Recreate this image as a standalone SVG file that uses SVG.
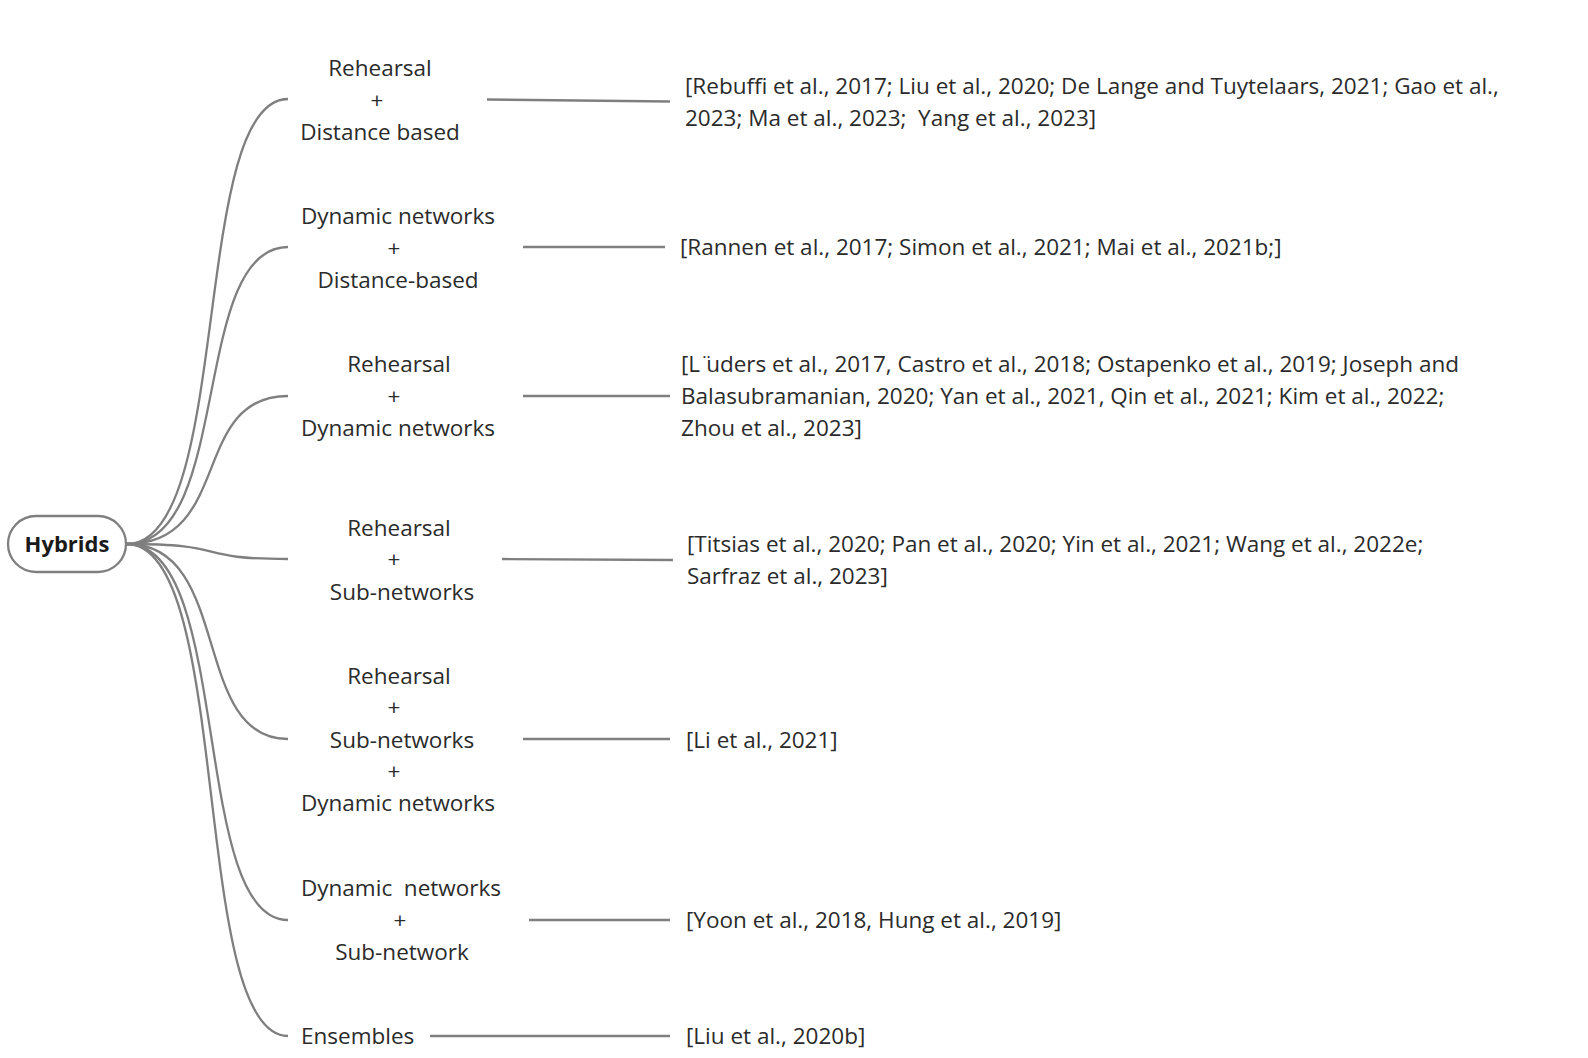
<svg xmlns="http://www.w3.org/2000/svg" width="1588" height="1058" viewBox="0 0 1588 1058">
<style>
text{font-family:"Open Sans","Noto Sans","DejaVu Sans",sans-serif;font-size:22.5px;fill:#2b2b2b}
.c{text-anchor:middle}
.root{font-weight:bold;font-size:22px;fill:#1a1a1a}
.ln{fill:none;stroke:#7f7f7f;stroke-width:2.3}
</style>
<rect width="1588" height="1058" fill="#ffffff"/>
<g id="connectors">
<path class="ln" d="M127,544 C233,544 190,99 288,99"/>
<path class="ln" d="M127,544 C233,544 190,247 288,247"/>
<path class="ln" d="M127,544 C233,544 190,396 288,396"/>
<path class="ln" d="M127,544 C233,544 190,559 288,559"/>
<path class="ln" d="M127,544 C233,544 190,739 288,739"/>
<path class="ln" d="M127,544 C233,544 190,920 288,920"/>
<path class="ln" d="M127,544 C233,544 190,1036 288,1036"/>
<path class="ln" d="M487,99.5 L670,101.5"/>
<path class="ln" d="M523,247 L665,247"/>
<path class="ln" d="M523,396 L670,396"/>
<path class="ln" d="M502,559 L673,560"/>
<path class="ln" d="M523,739 L670,739"/>
<path class="ln" d="M529,920 L670,920"/>
<path class="ln" d="M430,1036 L670,1036"/>
</g>
<g id="root">
<rect x="8" y="516" width="118" height="56" rx="28" fill="#ffffff" stroke="#7f7f7f" stroke-width="2.3"/>
<text class="c root" x="67" y="552">Hybrids</text>
</g>
<g id="n1">
<text class="c" x="380" y="75.5">Rehearsal</text>
<text class="c" x="377" y="107.5">+</text>
<text class="c" x="380" y="139.5">Distance based</text>
</g>
<g id="r1">
<text x="685" y="94">[Rebuffi et al., 2017; Liu et al., 2020; De Lange and Tuytelaars, 2021; Gao et al.,</text>
<text x="685" y="125.5" xml:space="preserve">2023; Ma et al., 2023;  Yang et al., 2023]</text>
</g>
<g id="n2">
<text class="c" x="398" y="223.5">Dynamic networks</text>
<text class="c" x="394" y="255.5">+</text>
<text class="c" x="398" y="287.5">Distance-based</text>
</g>
<g id="r2">
<text x="680" y="255">[Rannen et al., 2017; Simon et al., 2021; Mai et al., 2021b;]</text>
</g>
<g id="n3">
<text class="c" x="399" y="371.5">Rehearsal</text>
<text class="c" x="394" y="404">+</text>
<text class="c" x="398" y="435.5">Dynamic networks</text>
</g>
<g id="r3">
<text x="681" y="371.5">[L¨<tspan dx="-7">uders et al., 2017, Castro et al., 2018; Ostapenko et al., 2019; Joseph and</tspan></text>
<text x="681" y="404">Balasubramanian, 2020; Yan et al., 2021, Qin et al., 2021; Kim et al., 2022;</text>
<text x="681" y="435.5">Zhou et al., 2023]</text>
</g>
<g id="n4">
<text class="c" x="399" y="535.5">Rehearsal</text>
<text class="c" x="394" y="567">+</text>
<text class="c" x="402" y="599.5">Sub-networks</text>
</g>
<g id="r4">
<text x="687" y="552">[Titsias et al., 2020; Pan et al., 2020; Yin et al., 2021; Wang et al., 2022e;</text>
<text x="687" y="583.5">Sarfraz et al., 2023]</text>
</g>
<g id="n5">
<text class="c" x="399" y="683.5">Rehearsal</text>
<text class="c" x="394" y="715">+</text>
<text class="c" x="402" y="747.5">Sub-networks</text>
<text class="c" x="394" y="778.5">+</text>
<text class="c" x="398" y="811">Dynamic networks</text>
</g>
<g id="r5">
<text x="686" y="747.5">[Li et al., 2021]</text>
</g>
<g id="n6">
<text class="c" x="401" y="896" xml:space="preserve">Dynamic  networks</text>
<text class="c" x="400" y="927.5">+</text>
<text class="c" x="402" y="960">Sub-network</text>
</g>
<g id="r6">
<text x="686" y="927.5">[Yoon et al., 2018, Hung et al., 2019]</text>
</g>
<g id="n7">
<text x="301" y="1044">Ensembles</text>
</g>
<g id="r7">
<text x="686" y="1044">[Liu et al., 2020b]</text>
</g>
</svg>
